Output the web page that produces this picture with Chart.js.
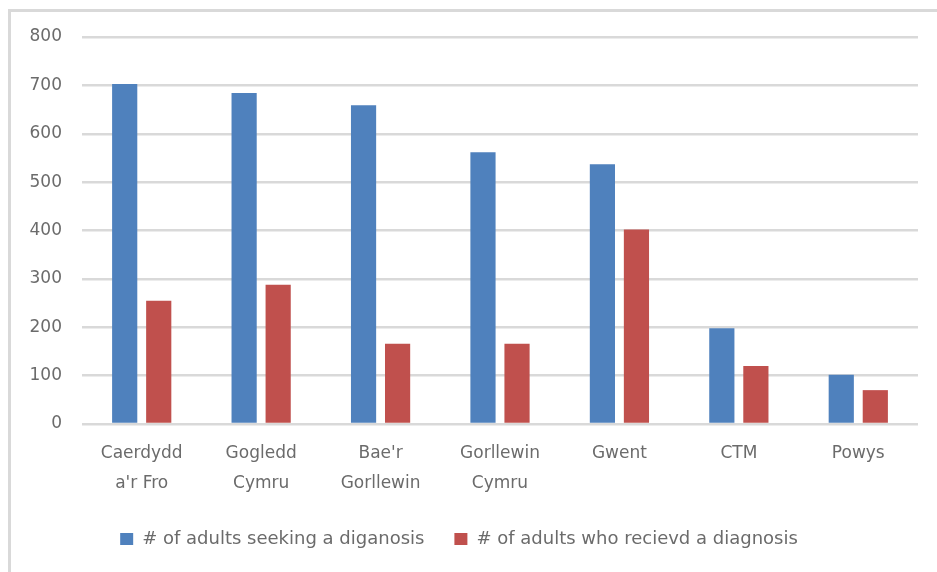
<!DOCTYPE html>
<html>
<head>
<meta charset="utf-8">
<script src="https://cdn.jsdelivr.net/npm/chart.js@4/dist/chart.umd.min.js"></script>
<style>
  html, body { margin: 0; padding: 0; background: #fff; }
  #frame { position: absolute; left: 8px; top: 9px; width: 960px; height: 600px;
           border-top: 3px solid #d9d9d9; border-left: 3px solid #d9d9d9; box-sizing: border-box; }
  #wrap { position: absolute; left: 0; top: 0; width: 937px; height: 572px; }
</style>
</head>
<body>
<div id="frame"></div>
<div id="wrap"><canvas id="c" width="937" height="572"></canvas></div>
<script>
const categories = [["Caerdydd", "a'r Fro"], ["Gogledd", "Cymru"], ["Bae'r", "Gorllewin"], ["Gorllewin", "Cymru"], "Gwent", "CTM", "Powys"];
const seekingLabel = "# of adults seeking a diganosis";
const receivedLabel = "# of adults who recievd a diagnosis";
const seeking = [703, 684, 659, 562, 537, 198, 102];
const received = [255, 288, 166, 166, 402, 120, 70];
const yTicks = [0, 100, 200, 300, 400, 500, 600, 700, 800];

const textColor = '#6b6b6b';
const fontFamily = '"DejaVu Sans", "Liberation Sans", sans-serif';

new Chart(document.getElementById('c'), {
  type: 'bar',
  data: {
    labels: categories,
    datasets: [
      { label: seekingLabel, data: seeking, backgroundColor: '#4f81bd', barPercentage: 0.74, categoryPercentage: 0.57 },
      { label: receivedLabel, data: received, backgroundColor: '#c0504d', barPercentage: 0.74, categoryPercentage: 0.57 }
    ]
  },
  options: {
    responsive: false,
    animation: false,
    layout: { padding: { left: 0, right: 19, top: 37, bottom: 14 } },
    plugins: {
      legend: {
        position: 'bottom',
        labels: {
          boxWidth: 13, boxHeight: 12, padding: 30,
          color: textColor,
          font: { family: fontFamily, size: 18 }
        }
      },
      tooltip: { enabled: false }
    },
    scales: {
      x: {
        grid: { display: false, drawTicks: false },
        border: { display: false },
        ticks: {
          color: textColor, padding: 14, maxRotation: 0, autoSkip: false,
          font: { family: fontFamily, size: 17, lineHeight: 1.8 }
        },
        afterFit: (s) => { s.height = 76; }
      },
      y: {
        min: 0, max: 800,
        afterBuildTicks: (s) => { s.ticks = yTicks.map(v => ({ value: v })); },
        grid: { color: '#d9d9d9', lineWidth: 2.5, drawTicks: false },
        border: { display: false },
        ticks: {
          color: textColor, padding: 20,
          font: { family: fontFamily, size: 17 }
        },
        afterFit: (s) => { s.width = 82; }
      }
    }
  }
});
</script>
</body>
</html>
